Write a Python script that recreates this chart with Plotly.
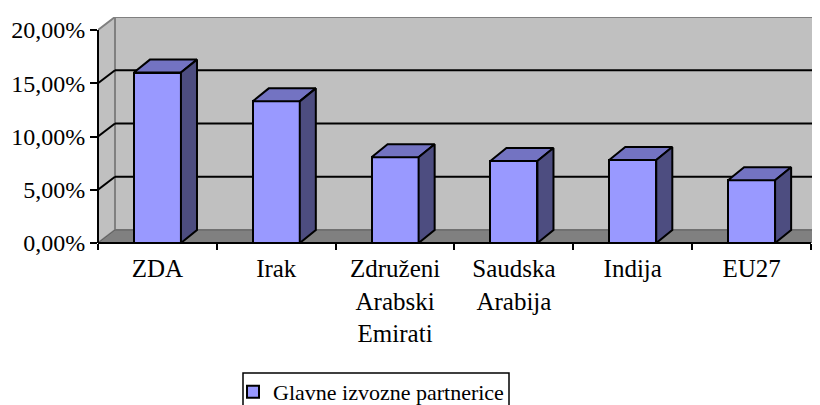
import plotly.graph_objects as go

categories = ["ZDA", "Irak", "Združeni<br>Arabski<br>Emirati", "Saudska<br>Arabija", "Indija", "EU27"]
values = [0.160, 0.133, 0.0805, 0.077, 0.078, 0.059]
series_name = "Glavne izvozne partnerice"
y_ticks = [0.0, 0.05, 0.10, 0.15, 0.20]

FONT = "Liberation Serif"
FRONT = "#9999FF"
TOP = "#7373C2"
SIDE = "#4D4D80"
WALL = "#C0C0C0"
FLOOR = "#808080"

OFF = 8  # page body margin: figure is placed at (8, 8)
PLOT_L, PLOT_T, PLOT_W, PLOT_H = 98, 17, 722, 226
PLOT_B = PLOT_T + PLOT_H

n = len(categories)
xs = list(range(n))
x_lo = -0.5
x_hi = -0.5 + PLOT_W / 118.83
y_top = 0.2122
wall_dx, wall_dy = 0.143, 0.0122
bar_w = 0.396
bar_dx, bar_dy = 0.135, 0.0122
y_max = max(y_ticks)

fig = go.Figure()

fig.add_trace(go.Bar(
    x=xs, y=values, width=bar_w, name=series_name,
    marker=dict(color=FRONT, line=dict(color="black", width=2)),
    showlegend=True, hoverinfo="skip",
))

for xi, v in zip(xs, values):
    l, r = xi - bar_w / 2, xi + bar_w / 2
    fig.add_trace(go.Scatter(
        x=[l, r, r + bar_dx, l + bar_dx, l],
        y=[v, v, v + bar_dy, v + bar_dy, v],
        mode="lines", fill="toself", fillcolor=TOP,
        line=dict(color="black", width=2), showlegend=False, hoverinfo="skip"))
    fig.add_trace(go.Scatter(
        x=[r, r, r + bar_dx, r + bar_dx, r],
        y=[0, v, v + bar_dy, bar_dy, 0],
        mode="lines", fill="toself", fillcolor=SIDE,
        line=dict(color="black", width=2), showlegend=False, hoverinfo="skip"))

shapes = []
shapes.append(dict(type="rect", xref="x", yref="y", layer="below",
                   x0=x_lo + wall_dx, x1=x_hi + 1, y0=wall_dy, y1=y_max + wall_dy,
                   fillcolor=WALL, line=dict(color=FLOOR, width=2)))
shapes.append(dict(type="path", xref="x", yref="y", layer="below",
                   path=f"M{x_lo},0 L{x_lo},{y_max} L{x_lo + wall_dx},{y_max + wall_dy} L{x_lo + wall_dx},{wall_dy} Z",
                   fillcolor=WALL, line=dict(color=FLOOR, width=2)))
x_end = x_lo + n
shapes.append(dict(type="path", xref="x", yref="y", layer="below",
                   path=f"M{x_lo},0 L{x_end},0 L{x_end + wall_dx},{wall_dy} L{x_lo + wall_dx},{wall_dy} Z",
                   fillcolor=FLOOR, line=dict(color="#606060", width=1)))
for t in y_ticks[1:-1]:
    shapes.append(dict(type="line", xref="x", yref="y", layer="below",
                       x0=x_lo + wall_dx, x1=x_hi + 1, y0=t + wall_dy, y1=t + wall_dy,
                       line=dict(color="black", width=2)))
    shapes.append(dict(type="line", xref="x", yref="y", layer="below",
                       x0=x_lo, x1=x_lo + wall_dx, y0=t, y1=t + wall_dy,
                       line=dict(color="black", width=2)))
shapes.append(dict(type="line", xref="x domain", yref="y", layer="above",
                   x0=0, x1=0, y0=0, y1=y_max, line=dict(color="black", width=2)))
shapes.append(dict(type="line", xref="x", yref="y domain", layer="above",
                   x0=x_lo, x1=x_end, y0=0, y1=0, line=dict(color="black", width=2)))

def px_x(p):
    return (p - PLOT_L) / PLOT_W

def px_y(p):
    return (PLOT_B - p) / PLOT_H

# legend frame
shapes.append(dict(type="rect", xref="paper", yref="paper", layer="below",
                   x0=px_x(243), x1=px_x(509), y0=px_y(373), y1=px_y(412),
                   fillcolor="white", line=dict(color="black", width=1.5)))

W, H = 820 - OFF, 405 - OFF
fig.update_layout(
    width=W, height=H,
    template="none",
    margin=dict(l=PLOT_L - OFF, r=W - (PLOT_L - OFF) - PLOT_W, t=PLOT_T - OFF,
                b=H - (PLOT_T - OFF) - PLOT_H, pad=0, autoexpand=False),
    paper_bgcolor="white", plot_bgcolor="white",
    separators=",.",
    font=dict(family=FONT, size=24, color="black"),
    shapes=shapes,
    bargap=0,
    showlegend=True,
    legend=dict(x=px_x(233), y=px_y(371), xanchor="left", yanchor="top",
                bgcolor="rgba(0,0,0,0)", borderwidth=0,
                font=dict(family=FONT, size=22, color="black"),
                itemwidth=30, tracegroupgap=0),
    xaxis=dict(range=[x_lo, x_hi], showgrid=False, zeroline=False, showline=False,
               tickmode="array", tickvals=xs, ticktext=categories, ticks="",
               tickfont=dict(family=FONT, size=25), automargin=False,
               ticklabelstandoff=8,
               minor=dict(tickmode="array", tickvals=[x_lo + k for k in range(n + 1)],
                          ticks="outside", ticklen=6, tickwidth=2, tickcolor="black",
                          showgrid=False)),
    yaxis=dict(range=[0, y_top], showgrid=False, zeroline=False, showline=False,
               tickmode="array", tickvals=y_ticks, tickformat=".2%",
               ticks="outside", ticklen=7, tickwidth=2, tickcolor="black",
               tickfont=dict(family=FONT, size=24), automargin=False),
)

fig.write_html("out.html")
